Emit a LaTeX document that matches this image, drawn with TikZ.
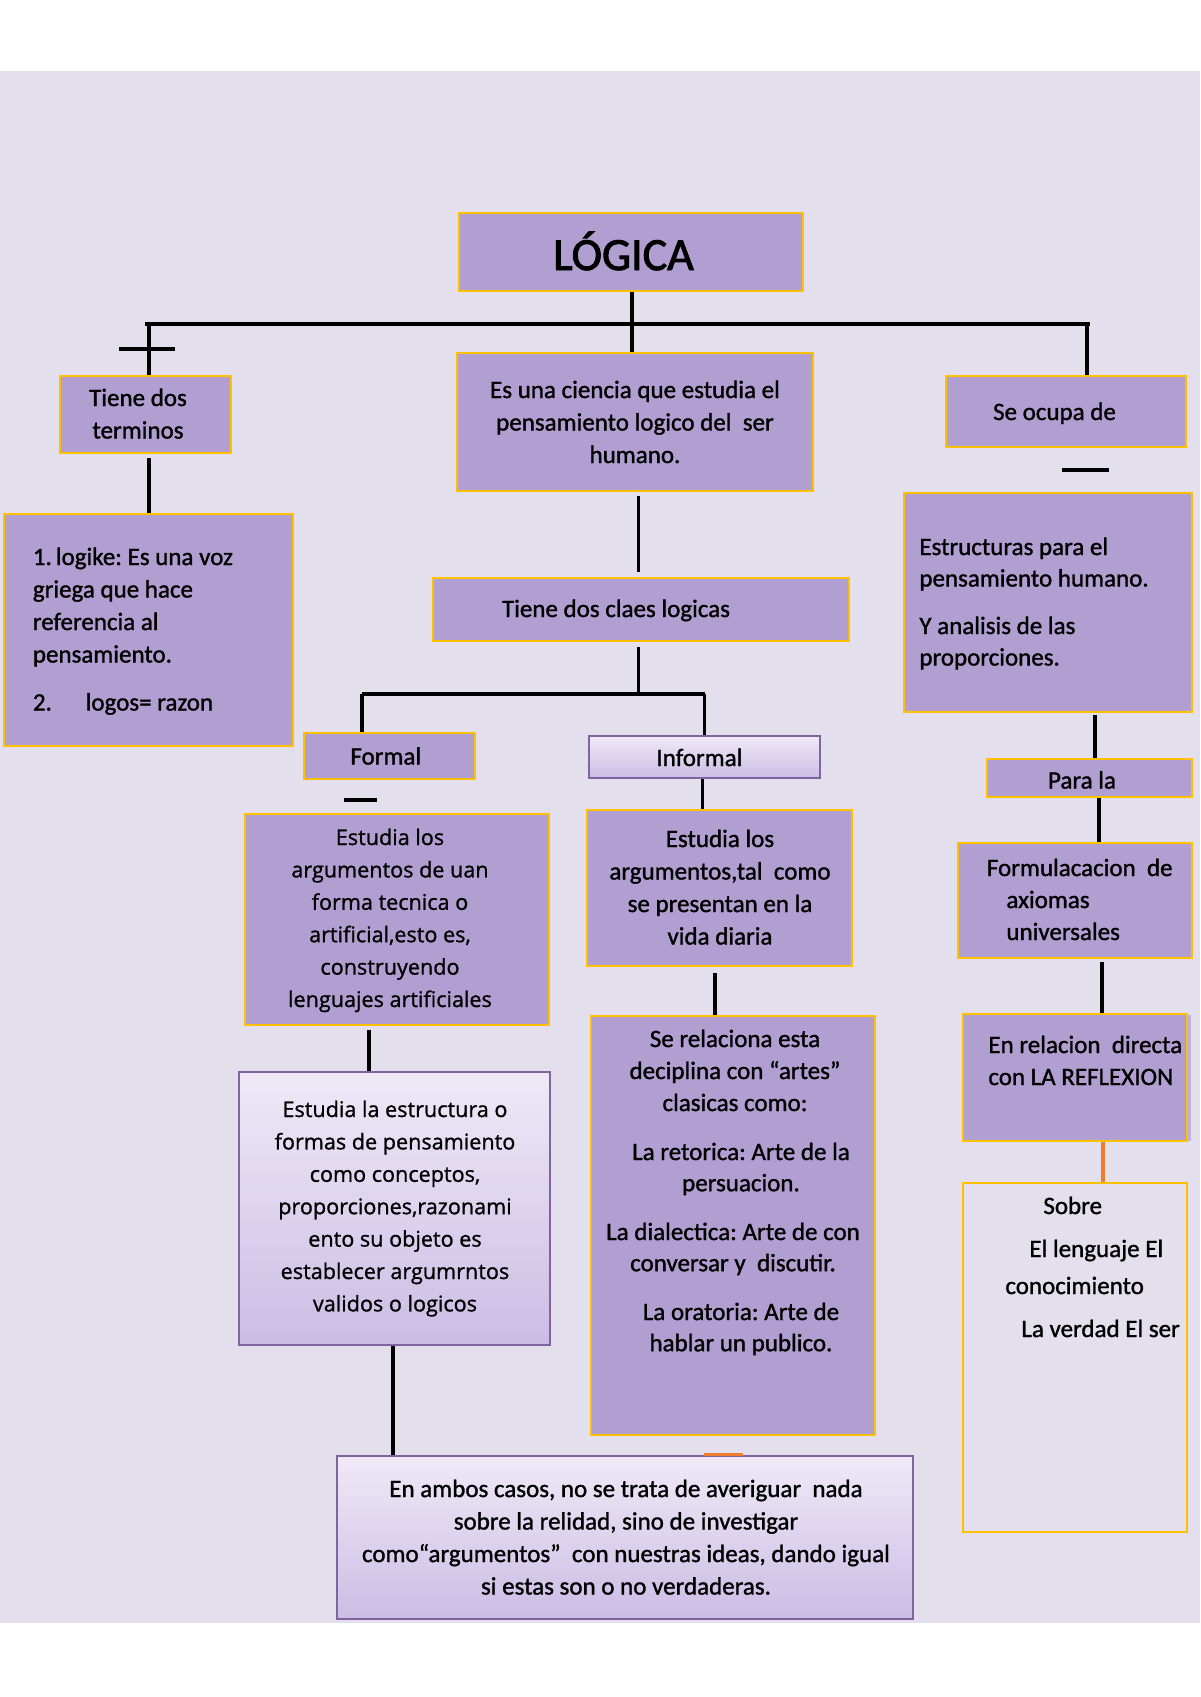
\documentclass[tikz,border=0pt]{standalone}
\usepackage{fontspec}
\setmainfont{Carlito}[FakeBold=1.2]
\newfontfamily\osans{Open Sans}[FakeBold=1.0]
\newfontfamily\titfont{Carlito}[FakeBold=2.0]
\usetikzlibrary{fit}
\frenchspacing
\definecolor{bgc}{HTML}{E4DFEC}
\definecolor{boxc}{HTML}{B29FD2}
\definecolor{goldc}{HTML}{FFC000}
\definecolor{purc}{HTML}{8064A2}
\definecolor{gtop}{HTML}{EFE9F7}
\definecolor{gbot}{HTML}{CBBDE5}
\definecolor{orc}{HTML}{ED7D31}
\newcommand{\ctx}[2]{\parbox[t]{#1}{\centering #2}}
\newcommand{\ltx}[2]{\parbox[t]{#1}{\raggedright #2}}
\tikzset{
 gbox/.style={draw=goldc, line width=1pt, fill=boxc, inner sep=0pt},
 pbox/.style={draw=purc, line width=1pt, top color=gtop, bottom color=gbot, inner sep=0pt},
 ebox/.style={draw=goldc, line width=1pt, fill=bgc, inner sep=0pt},
 conn/.style={line width=1.8pt, black},
 oconn/.style={line width=1.6pt, orc},
 txt/.style={inner sep=0pt, anchor=base, font=\frenchspacing\fontsize{12.5}{16.25}\selectfont},
 ltxt/.style={txt, anchor=base west},
 otxt/.style={inner sep=0pt, anchor=base, font=\frenchspacing\osans\fontsize{10.8}{16.2}\selectfont},
}
\begin{document}
\begin{tikzpicture}[x=0.5pt,y=-0.5pt]
\useasboundingbox (0,0) rectangle (1200,1697);
\fill[white] (0,0) rectangle (1200,1697);
\fill[bgc] (0,71) rectangle (1200,1623);

% boxes
\node[gbox, fit={(459,213) (803,291)}] (logica) {};
\node[gbox, fit={(457,353) (813,491)}] (ciencia) {};
\node[gbox, fit={(60,376) (231,453)}] (tdt) {};
\node[gbox, fit={(946,376) (1186,447)}] (ocupa) {};
\node[gbox, fit={(4,514) (293,746)}] (logike) {};
\node[gbox, fit={(904,493) (1192,712)}] (estruct) {};
\node[gbox, fit={(433,578) (849,641)}] (claes) {};
\node[gbox, fit={(304,733) (475,779)}] (formal) {};
\node[pbox, fit={(589,736) (820,778)}] (informal) {};
\node[gbox, fit={(987,759) (1192,797)}] (parala) {};
\node[gbox, fit={(245,814) (549,1025)}] (argtec) {};
\node[gbox, fit={(587,810) (852,966)}] (argtal) {};
\node[gbox, fit={(958,843) (1192,958)}] (formul) {};
\node[pbox, fit={(239,1072) (550,1345)}] (estrucf) {};
\node[gbox, fit={(591,1016) (875,1435)}] (serel) {};
\fill[boxc!70!bgc] (1187,1015) rectangle (1191,1141);
\node[gbox, fit={(963,1014) (1187,1141)}] (reflex) {};
\node[ebox, fit={(963,1183) (1187,1532)}] (sobre) {};
\node[pbox, fit={(337,1456) (913,1619)}] (ambos) {};

% texts
\node[txt, font=\titfont\fontsize{23}{28}\selectfont] (tLogica) at (623.5,270) {LÓGICA};
\node[txt] (tTdt) at (138,406) {\ctx{100pt}{Tiene dos\\terminos}};
\node[txt] (tCiencia) at (635,398) {\ctx{180pt}{Es una ciencia que estudia el\\pensamiento logico del\ \ ser\\humano.}};
\node[txt] (tOcupa) at (1054.5,420) {Se ocupa de};
\node[ltxt] (tLogike) at (32.5,565) {\ltx{140pt}{1.\hspace{2pt}logike: Es una voz\\griega que hace\\referencia al\\pensamiento.\\[7.75pt]\makebox[26.4pt][l]{2.}logos= razon}};
\node[ltxt, font=\frenchspacing\fontsize{12.5}{15.75}\selectfont] (tEstruct) at (919,555) {\ltx{150pt}{Estructuras para el\\pensamiento humano.\\[8pt]Y analisis de las\\proporciones.}};
\node[txt] (tClaes) at (616,617) {Tiene dos claes logicas};
\node[txt] (tFormal) at (385.8,764.5) {Formal};
\node[txt] (tInformal) at (699.4,766) {Informal};
\node[txt] (tParala) at (1082,788.5) {Para la};
\node[otxt] (tArgtec) at (390,845) {\ctx{170pt}{Estudia los\\argumentos de uan\\forma tecnica o\\artificial,esto es,\\construyendo\\lenguajes artificiales}};
\node[txt] (tArgtal) at (720,847) {\ctx{150pt}{Estudia los\\argumentos,tal\ \ como\\se presentan en la\\vida diaria}};
\node[ltxt, font=\frenchspacing\fontsize{12.5}{16}\selectfont] (tFormul) at (986.5,876) {\ltx{120pt}{Formulacacion\ \ de\\\hspace*{9.75pt}axiomas\\\hspace*{9.75pt}universales}};
\node[otxt] (tEstrucf) at (395,1117) {\ctx{170pt}{Estudia la estructura o\\formas de pensamiento\\como conceptos,\\proporciones,razonami\\ento su objeto es\\establecer argumrntos\\validos o logicos}};
\node[txt, font=\frenchspacing\fontsize{12.5}{16}\selectfont] (tSerel1) at (735,1047) {\ctx{150pt}{Se relaciona esta\\deciplina con “artes”\\clasicas como:}};
\node[txt, font=\frenchspacing\fontsize{12.5}{15.6}\selectfont] (tSerel2) at (741,1160) {\ctx{150pt}{La retorica: Arte de la\\persuacion.}};
\node[txt, font=\frenchspacing\fontsize{12.5}{15.6}\selectfont] (tSerel3) at (733,1240) {\ctx{150pt}{La dialectica: Arte de con\\conversar y\ \ discutir.}};
\node[txt, font=\frenchspacing\fontsize{12.5}{15.6}\selectfont] (tSerel4) at (741,1320) {\ctx{150pt}{La oratoria: Arte de\\hablar un publico.}};
\node[ltxt, font=\frenchspacing\fontsize{12.5}{16}\selectfont] (tReflex) at (988,1053) {\ltx{130pt}{En relacion\ \ directa\\con LA REFLEXION}};
\node[ltxt] (tSobre1) at (1043,1214) {Sobre};
\node[ltxt] (tSobre2) at (1029,1257) {El lenguaje El};
\node[ltxt] (tSobre3) at (1005,1294) {conocimiento};
\node[ltxt] (tSobre4) at (1021,1337) {La verdad El ser};
\node[txt] (tAmbos) at (626,1497) {\ctx{300pt}{En ambos casos, no se trata de averiguar\ \ nada\\sobre la relidad, sino de investigar\\como“argumentos”\ \ con nuestras ideas, dando igual\\si estas son o no verdaderas.}};

% connector coordinates
\coordinate (jL0) at (145,324);
\coordinate (jR0) at (1090,324);
\coordinate (jL) at (149,324);
\coordinate (jC) at (632,324);
\coordinate (jR) at (1087,324);
\coordinate (xL) at (119,349);
\coordinate (xR) at (175,349);
\coordinate (dA) at (1062,470);
\coordinate (dB) at (1109,470);
\coordinate (fA) at (344,800);
\coordinate (fB) at (377,800);
\coordinate (kC) at (638.5,694);
\coordinate (bL) at (362,694);
\coordinate (bR) at (704.5,694);
\coordinate (xInf) at (702.6,0);
\coordinate (xTal) at (715,0);
\coordinate (xTec) at (369,0);
\coordinate (xEst) at (393,0);
\coordinate (xPar) at (1095,0);
\coordinate (xFor) at (1099,0);
\coordinate (xRef) at (1102,0);
\coordinate (xSob) at (1103,0);

% connectors
\draw[conn] (jL0) -- (jR0);
\draw[conn] (logica.south -| jC) -- (ciencia.north -| jC);
\draw[conn] (jL) -- (tdt.north -| jL);
\draw[conn] (jR) -- (ocupa.north -| jR);
\draw[conn] (xL) -- (xR);
\draw[conn] (dA) -- (dB);
\draw[conn] (fA) -- (fB);
\draw[conn, shorten <=2pt] (tdt.south -| jL) -- (logike.north -| jL);
\draw[conn, shorten <=1.75pt, shorten >=2.5pt] (ciencia.south -| kC) -- (claes.north -| kC);
\draw[conn, shorten <=2.5pt] (claes.south -| kC) -- (kC);
\draw[conn] (bL) -- (bR);
\draw[conn] (bL) -- (formal.north -| bL);
\draw[conn] (bR) -- (informal.north -| bR);
\draw[conn] (informal.south -| xInf) -- (argtal.north -| xInf);
\draw[conn, shorten <=3pt] (argtal.south -| xTal) -- (serel.north -| xTal);
\draw[conn, shorten <=2pt] (argtec.south -| xTec) -- (estrucf.north -| xTec);
\draw[conn] (estrucf.south -| xEst) -- (ambos.north -| xEst);
\draw[conn, shorten <=1pt] (estruct.south -| xPar) -- (parala.north -| xPar);
\draw[conn] (parala.south -| xFor) -- (formul.north -| xFor);
\draw[conn, shorten <=1.5pt] (formul.south -| xRef) -- (reflex.north -| xRef);
\draw[oconn] (reflex.south -| xSob) -- (sobre.north -| xSob);
\fill[orc] (704,1452.5) rectangle (742.7,1455.5);
\end{tikzpicture}
\end{document}
